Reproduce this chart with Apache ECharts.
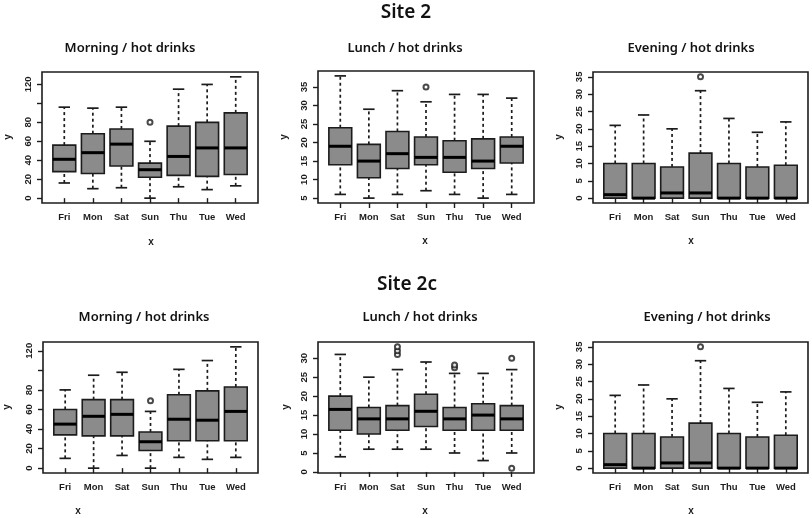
<!DOCTYPE html>
<html>
<head>
<meta charset="utf-8">
<script src="https://cdn.jsdelivr.net/npm/echarts@6/dist/echarts.min.js"></script>
<style>
  html, body { margin: 0; padding: 0; background: #fff; }
  #chart { width: 812px; height: 518px; }
</style>
</head>
<body>
<div id="chart"></div>
<script>
const days = ['Fri', 'Mon', 'Sat', 'Sun', 'Thu', 'Tue', 'Wed']

// each row: [lower whisker, Q1, median, Q3, upper whisker], one row per day
const s2Morning = [
  [16, 28, 41, 56, 96],
  [10, 26, 48, 68, 95],
  [11, 34, 57, 73, 96],
  [0, 22, 30, 37, 60],
  [12, 24, 44, 76, 115],
  [9, 23, 53, 80, 120],
  [13, 25, 53, 90, 128]
]
const s2MorningOut = [[4, 80]] // [day number, value]

const s2Lunch = [
  [6, 14, 19, 24, 38],
  [5, 10.5, 15, 19.5, 29],
  [6, 13, 17, 23, 34],
  [7, 14, 16, 21.5, 31],
  [6, 12, 16, 20.5, 33],
  [5, 13, 15, 21, 33],
  [6, 14.5, 19, 21.5, 32]
]
const s2LunchOut = [[4, 35]]

const s2Evening = [
  [0, 0, 1, 10, 21],
  [0, 0, 0, 10, 24],
  [0, 0, 1.5, 9, 20],
  [0, 0, 1.5, 13, 31],
  [0, 0, 0, 10, 23],
  [0, 0, 0, 9, 19],
  [0, 0, 0, 9.5, 22]
]
const s2EveningOut = [[4, 35]]

const s2cMorning = [
  [10, 34, 45, 60, 80],
  [0, 33, 53, 70, 95],
  [13, 33, 55, 70, 98],
  [0, 18, 27, 37, 58],
  [11, 28, 50, 75, 101],
  [9, 28, 49, 79, 110],
  [11, 28, 58, 83, 124]
]
const s2cMorningOut = [[4, 69]]

const s2cLunch = [
  [4, 11, 16.5, 20, 31],
  [6, 10, 14, 17, 25],
  [6, 11, 14, 17.5, 27],
  [6, 12, 16, 20.5, 29],
  [5, 11, 14, 17, 26],
  [3, 11, 15, 18, 26],
  [5, 11, 14, 17.5, 27]
]
const s2cLunchOut = [[3, 31], [3, 32], [3, 33], [5, 27.5], [5, 28.2], [7, 30], [7, 1]]

const s2cEvening = [
  [0, 0, 1, 10, 21],
  [0, 0, 0, 10, 24],
  [0, 0, 1.5, 9, 20],
  [0, 0, 1.5, 13, 31],
  [0, 0, 0, 10, 23],
  [0, 0, 0, 9, 19],
  [0, 0, 0, 9.5, 22]
]
const s2cEveningOut = [[4, 35]]

// y tick positions and the labels R kept
const morningTicks = [0, 20, 40, 60, 80, 100, 120]
const morningLabels = [0, 20, 40, 60, 80, 120]
const s2LunchTicks = [5, 10, 15, 20, 25, 30, 35]
const s2cLunchTicks = [0, 5, 10, 15, 20, 25, 30]
const eveningTicks = [0, 5, 10, 15, 20, 25, 30, 35]

const panels = [
  {title: 'Morning / hot drinks', stats: s2Morning, out: s2MorningOut, ticks: morningTicks, labels: morningLabels,
    grid: {left: 42, top: 72, width: 216, height: 131}, tPos: [130, 48], xPos: [151, 242], yPos: [8, 137]},
  {title: 'Lunch / hot drinks', stats: s2Lunch, out: s2LunchOut, ticks: s2LunchTicks, labels: s2LunchTicks,
    grid: {left: 318, top: 71, width: 216, height: 132}, tPos: [405, 48], xPos: [425, 241], yPos: [284, 137]},
  {title: 'Evening / hot drinks', stats: s2Evening, out: s2EveningOut, ticks: eveningTicks, labels: eveningTicks,
    grid: {left: 593, top: 72, width: 215, height: 131}, tPos: [691, 48], xPos: [691, 241], yPos: [559, 137]},
  {title: 'Morning / hot drinks', stats: s2cMorning, out: s2cMorningOut, ticks: morningTicks, labels: morningLabels,
    grid: {left: 43, top: 342, width: 215, height: 131}, tPos: [144, 317], xPos: [78, 511], yPos: [7, 407]},
  {title: 'Lunch / hot drinks', stats: s2cLunch, out: s2cLunchOut, ticks: s2cLunchTicks, labels: s2cLunchTicks,
    grid: {left: 318, top: 342, width: 216, height: 131}, tPos: [420, 317], xPos: [425, 511], yPos: [286, 407]},
  {title: 'Evening / hot drinks', stats: s2cEvening, out: s2cEveningOut, ticks: eveningTicks, labels: eveningTicks,
    grid: {left: 593, top: 342, width: 215, height: 131}, tPos: [707, 317], xPos: [691, 511], yPos: [559, 407]}
]

const boxFill = '#8b8b8b'
const ink = '#1c1c1c'
const tickFont = {fontFamily: 'Liberation Sans', fontWeight: 'bold', fontSize: 9.5, color: ink}

// same rule R uses: data range plus 4% each side
function yRange(stats, out) {
  const vals = stats.flat().concat(out.map(o => o[1]))
  const lo = Math.min(...vals)
  const hi = Math.max(...vals)
  const pad = (hi - lo) * 0.04
  return [lo - pad, hi + pad]
}

function renderBox(params, api) {
  const x = api.value(0)
  const pLo = api.coord([x, api.value(1)])
  const pQ1 = api.coord([x, api.value(2)])
  const pMed = api.coord([x, api.value(3)])
  const pQ3 = api.coord([x, api.value(4)])
  const pHi = api.coord([x, api.value(5)])
  const bw = api.size([0.8, 0])[0]
  const cw = api.size([0.4, 0])[0]
  const cx = pLo[0]
  const dash = {stroke: ink, lineWidth: 1.7, lineDash: [3, 3]}
  const solid = {stroke: ink, lineWidth: 1.7}
  return {
    type: 'group',
    children: [
      {type: 'line', shape: {x1: cx, y1: pQ3[1], x2: cx, y2: pHi[1]}, style: dash},
      {type: 'line', shape: {x1: cx, y1: pLo[1], x2: cx, y2: pQ1[1]}, style: dash},
      {type: 'line', shape: {x1: cx - cw / 2, y1: pHi[1], x2: cx + cw / 2, y2: pHi[1]}, style: solid},
      {type: 'line', shape: {x1: cx - cw / 2, y1: pLo[1], x2: cx + cw / 2, y2: pLo[1]}, style: solid},
      {type: 'rect', shape: {x: cx - bw / 2, y: pQ3[1], width: bw, height: pQ1[1] - pQ3[1]},
        style: {fill: boxFill, stroke: ink, lineWidth: 1.6}},
      {type: 'line', shape: {x1: cx - bw / 2, y1: pMed[1], x2: cx + bw / 2, y2: pMed[1]},
        style: {stroke: '#000', lineWidth: 3}}
    ]
  }
}

const grid = []
const xAxis = []
const yAxis = []
const series = []
const graphic = [
  {type: 'text', x: 406, y: 13, style: {text: 'Site 2', font: '600 19px "Noto Sans"', fill: '#111', textAlign: 'center', textVerticalAlign: 'middle'}},
  {type: 'text', x: 407, y: 285, style: {text: 'Site 2c', font: '600 19px "Noto Sans"', fill: '#111', textAlign: 'center', textVerticalAlign: 'middle'}}
]

panels.forEach((p, i) => {
  const [ymin, ymax] = yRange(p.stats, p.out)
  grid.push(Object.assign({show: true, borderColor: ink, borderWidth: 1.6, backgroundColor: 'transparent'}, p.grid))
  xAxis.push({
    type: 'value', gridIndex: i, min: 0.22, max: 7.78,
    axisLine: {show: false}, splitLine: {show: false},
    axisTick: {show: true, length: 5, lineStyle: {color: ink, width: 1.4}, customValues: [1, 2, 3, 4, 5, 6, 7]},
    axisLabel: Object.assign({margin: 9, customValues: [1, 2, 3, 4, 5, 6, 7],
      formatter: v => days[Math.round(v) - 1]}, tickFont)
  })
  yAxis.push({
    type: 'value', gridIndex: i, min: ymin, max: ymax,
    axisLine: {show: false}, splitLine: {show: false},
    axisTick: {show: true, length: 5, lineStyle: {color: ink, width: 1.4}, customValues: p.ticks},
    axisLabel: Object.assign({margin: 9, rotate: 90, customValues: p.labels, formatter: v => String(Math.round(v))}, tickFont)
  })
  series.push({
    type: 'custom', xAxisIndex: i, yAxisIndex: i,
    renderItem: renderBox,
    encode: {x: 0, y: [1, 2, 3, 4, 5]},
    data: p.stats.map((s, d) => [d + 1].concat(s)),
    silent: true, animation: false
  })
  series.push({
    type: 'scatter', xAxisIndex: i, yAxisIndex: i,
    symbol: 'emptyCircle', symbolSize: 5,
    itemStyle: {color: ink, borderColor: ink, borderWidth: 1.2},
    data: p.out, silent: true, animation: false, z: 5
  })
  graphic.push({type: 'text', x: p.tPos[0], y: p.tPos[1],
    style: {text: p.title, font: '600 13px "Noto Sans"', fill: '#111', textAlign: 'center', textVerticalAlign: 'middle'}})
  graphic.push({type: 'text', x: p.xPos[0], y: p.xPos[1],
    style: {text: 'x', font: 'bold 10px "Liberation Sans"', fill: ink, textAlign: 'center', textVerticalAlign: 'middle'}})
  graphic.push({type: 'text', x: p.yPos[0], y: p.yPos[1], rotation: Math.PI / 2,
    style: {text: 'y', font: 'bold 10px "Liberation Sans"', fill: ink, textAlign: 'center', textVerticalAlign: 'middle'}})
})

const chart = echarts.init(document.getElementById('chart'))
chart.setOption({
  backgroundColor: '#fff',
  animation: false,
  grid: grid,
  xAxis: xAxis,
  yAxis: yAxis,
  series: series,
  graphic: graphic
})
</script>
</body>
</html>
